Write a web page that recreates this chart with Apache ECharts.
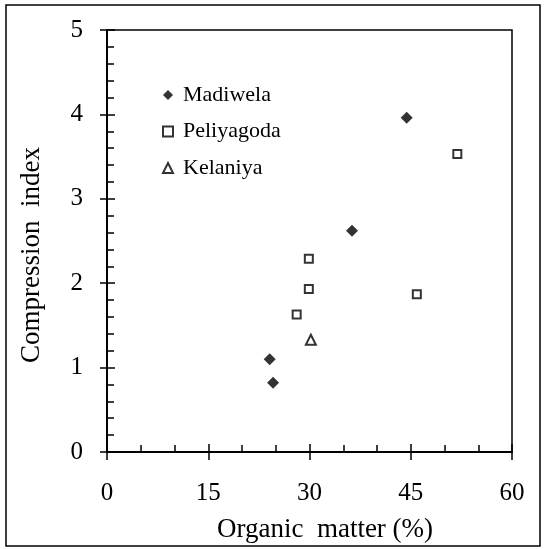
<!DOCTYPE html>
<html>
<head>
<meta charset="utf-8">
<script src="https://cdn.jsdelivr.net/npm/echarts@6/dist/echarts.min.js"></script>
<style>
  html, body { margin: 0; padding: 0; background: #fff; }
  #main { width: 544px; height: 549px; }
</style>
</head>
<body>
<div id="main"></div>
<script>
// organic matter (%) vs compression index
var madiwela = [[44.4, 3.96], [36.3, 2.62], [24.1, 1.10], [24.6, 0.82]];
var peliyagoda = [[51.9, 3.53], [29.9, 2.29], [29.9, 1.93], [28.1, 1.63], [45.9, 1.87]];
var kelaniya = [[30.2, 1.33]];
var seriesNames = ['Madiwela', 'Peliyagoda', 'Kelaniya'];

var font = 'Liberation Serif, Times New Roman, serif';
var chart = echarts.init(document.getElementById('main'));

var option = {
  animation: false,
  backgroundColor: '#fff',
  graphic: [{
    type: 'rect',
    shape: { x: 6, y: 5, width: 534, height: 541 },
    style: { fill: 'none', stroke: '#000', lineWidth: 1.5 }
  }],
  grid: {
    left: 107, right: 32, top: 30, bottom: 97,
    show: true, borderColor: '#000', borderWidth: 1.5
  },
  legend: {
    orient: 'vertical',
    left: 157, top: 79,
    itemGap: 14.5,
    itemWidth: 10, itemHeight: 10,
    data: seriesNames,
    textStyle: { fontFamily: font, fontSize: 22, color: '#000', padding: [0, 0, 0, 5] }
  },
  xAxis: [{
    type: 'value', min: 0, max: 60, interval: 15, position: 'bottom',
    name: 'Organic  matter (%)', nameLocation: 'middle', nameGap: 64,
    nameTextStyle: { fontFamily: font, fontSize: 27, color: '#000', padding: [0, 0, 0, 31] },
    axisLine: { lineStyle: { color: '#000', width: 2 } },
    axisTick: { inside: true, length: 8, lineStyle: { color: '#000', width: 1.5 } },
    minorTick: { show: true, splitNumber: 3, length: 7, lineStyle: { color: '#000', width: 1.5 } },
    axisLabel: { fontFamily: font, fontSize: 25, color: '#000', margin: 29 },
    splitLine: { show: false }
  }, {
    type: 'value', min: 0, max: 60, interval: 15, position: 'bottom',
    axisLine: { show: false },
    axisTick: { inside: false, length: 8, lineStyle: { color: '#000', width: 1.5 } },
    axisLabel: { show: false },
    splitLine: { show: false }
  }],
  yAxis: [{
    type: 'value', min: 0, max: 5, interval: 1, position: 'left',
    name: 'Compression  index', nameLocation: 'middle', nameGap: 62,
    nameTextStyle: { fontFamily: font, fontSize: 27, color: '#000', padding: [0, 28, 0, 0] },
    axisLine: { lineStyle: { color: '#000', width: 2 } },
    axisTick: { inside: true, length: 8, lineStyle: { color: '#000', width: 1.5 } },
    minorTick: { show: true, splitNumber: 5, length: 7, lineStyle: { color: '#000', width: 1.5 } },
    axisLabel: { fontFamily: font, fontSize: 25, color: '#000', margin: 24 },
    splitLine: { show: false }
  }, {
    type: 'value', min: 0, max: 5, interval: 1, position: 'left',
    axisLine: { show: false },
    axisTick: { inside: false, length: 7, lineStyle: { color: '#000', width: 1.5 } },
    axisLabel: { show: false },
    splitLine: { show: false }
  }],
  series: [{
    name: seriesNames[0], type: 'scatter', data: madiwela,
    symbol: 'diamond', symbolSize: 12,
    itemStyle: { color: '#000' }
  }, {
    name: seriesNames[1], type: 'scatter', data: peliyagoda,
    symbol: 'rect', symbolSize: 8,
    itemStyle: { color: '#fff', borderColor: '#000', borderWidth: 2 }
  }, {
    name: seriesNames[2], type: 'scatter', data: kelaniya,
    symbol: 'triangle', symbolSize: 10,
    itemStyle: { color: '#fff', borderColor: '#000', borderWidth: 2 }
  }]
};
chart.setOption(option);
</script>
</body>
</html>
